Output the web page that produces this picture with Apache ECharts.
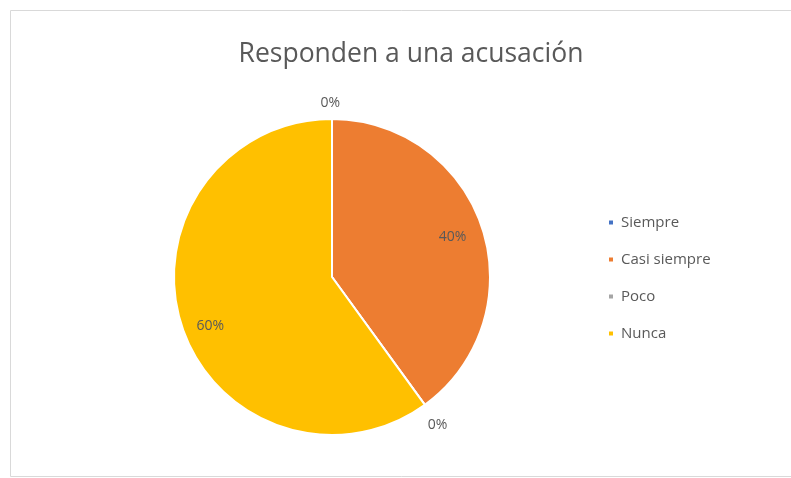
<!DOCTYPE html>
<html><head><meta charset="utf-8">
<script src="https://cdn.jsdelivr.net/npm/echarts@6/dist/echarts.min.js"></script>
<style>html,body{margin:0;padding:0;background:#fff}#c{width:791px;height:478px}</style>
</head><body><div id="c"></div>
<script>
const categories = ['Siempre', 'Casi siempre', 'Poco', 'Nunca'];
const values = [0, 40, 0, 60];
const colors = ['#4472C4', '#ED7D31', '#A5A5A5', '#FFC000'];
const titleText = 'Responden a una acusación';

const chart = echarts.init(document.getElementById('c'), null, {renderer: 'canvas'});
const font = 'Open Sans';
const cx = 332, cy = 277, R = 158;
// small label nudges (style only)
const labelOffsets = {0: [13, 1], 1: [-3, 0], 2: [-12, 6], 3: [2, 9]};

const mainData = categories.map((c, i) => ({
  name: c, value: values[i],
  itemStyle: {color: colors[i]},
  label: {show: values[i] === 0, offset: labelOffsets[i] || [0, 0]}
}));
const overlayData = categories.map((c, i) => ({
  name: c, value: values[i],
  itemStyle: {color: 'rgba(0,0,0,0)'},
  label: {show: values[i] !== 0, offset: labelOffsets[i] || [0, 0]}
}));

chart.setOption({
  animation: false,
  color: colors,
  graphic: [{type: 'rect', shape: {x: 10.5, y: 10.5, width: 800, height: 466}, style: {fill: 'none', stroke: '#d9d9d9', lineWidth: 1}, silent: true}],
  title: {text: titleText, left: 406, top: 36, textAlign: 'center',
    textStyle: {fontFamily: font, fontSize: 26.5, fontWeight: 'normal', color: '#595959'}},
  legend: {orient: 'vertical', left: 602, top: 210, itemWidth: 6, itemHeight: 6, itemGap: 22,
    icon: 'rect', data: categories,
    textStyle: {fontFamily: font, fontSize: 15, color: '#595959', padding: [0,0,0,2]}},
  series: [{
    type: 'pie', center: [cx, cy], radius: [0, R], startAngle: 90, clockwise: true,
    silent: true, legendHoverLink: false,
    itemStyle: {borderColor: '#fff', borderWidth: 2},
    label: {position: 'outside', formatter: '{d}%', fontFamily: font, fontSize: 14, color: '#595959'},
    labelLine: {show: false, length: 17, length2: 0},
    data: mainData
  }, {
    type: 'pie', center: [cx, cy], radius: [96, R], startAngle: 90, clockwise: true,
    silent: true, legendHoverLink: false,
    itemStyle: {borderWidth: 0},
    label: {position: 'inside', formatter: '{d}%', fontFamily: font, fontSize: 14, color: '#595959'},
    labelLine: {show: false},
    data: overlayData
  }]
});
</script></body></html>
